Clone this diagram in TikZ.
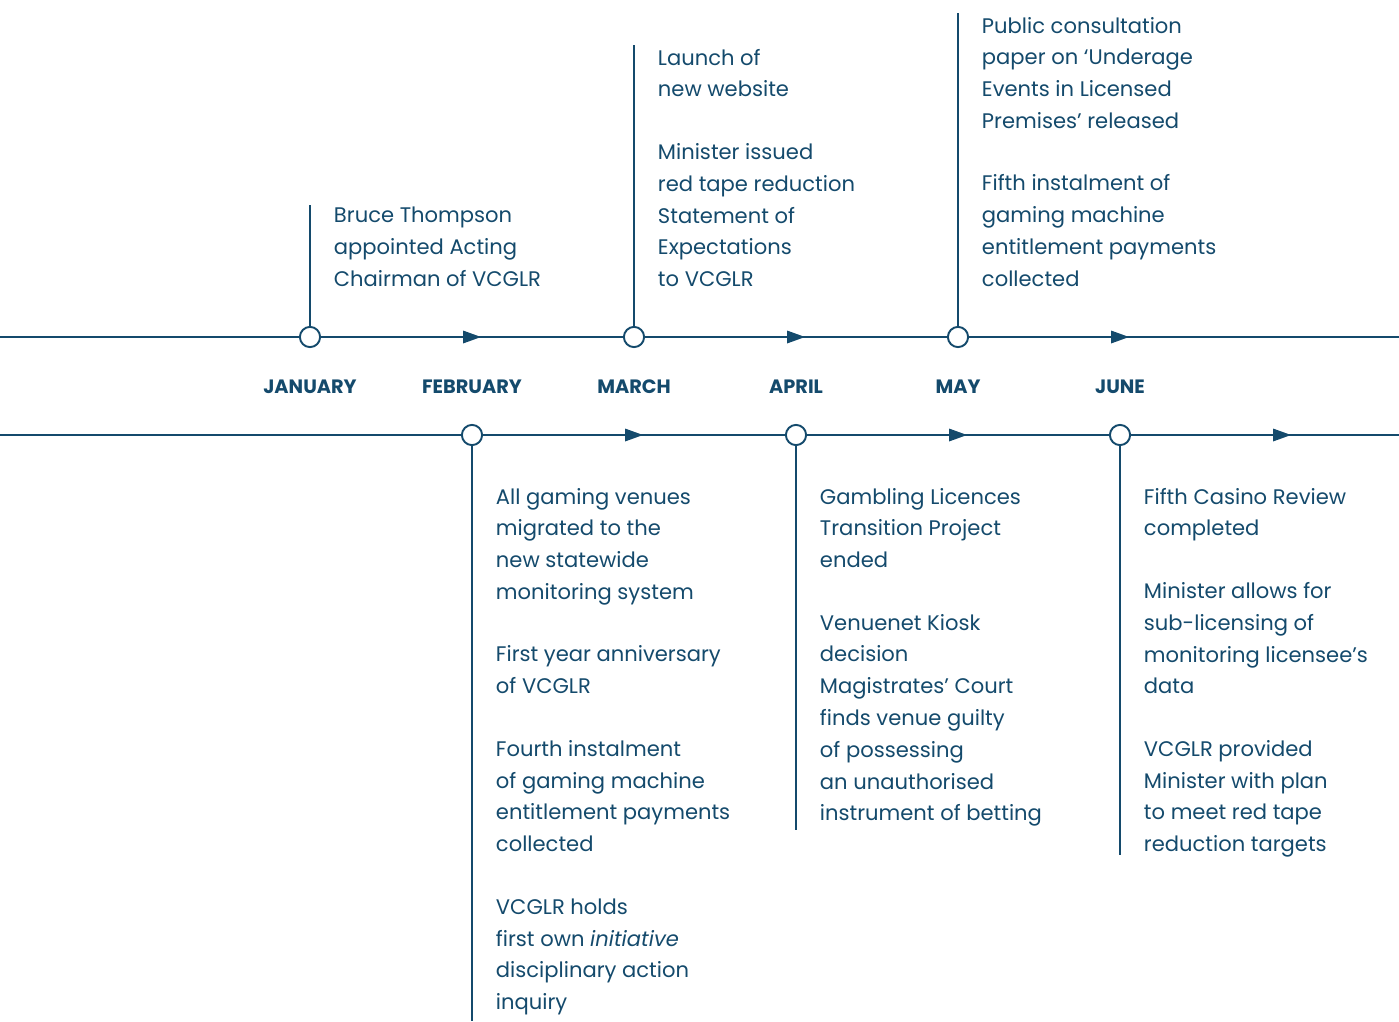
\documentclass[tikz,border=0pt]{standalone}
\usepackage{fontspec}
\setmainfont{Poppins}
\usetikzlibrary{positioning,calc}

\definecolor{tlblue}{HTML}{144A6C}

\begin{document}
\begin{tikzpicture}[x=0.02cm, y=-0.02cm,
    line width=1.1pt, draw=tlblue,
    stop/.style={circle, draw=tlblue, fill=white, line width=1.1pt, minimum size=11.5pt, inner sep=0pt},
    month/.style={text=tlblue, font=\fontsize{11}{13}\selectfont\bfseries, inner sep=0pt},
    event/.style={text=tlblue, font=\fontsize{12}{18.1}\selectfont, align=left, anchor=north west, inner sep=0pt}]
          % Define dimensions
          \def\ytop{337}
          \def\ybot{435}
          \def\ymon{387}
          \def\gap{17.5pt}
          \useasboundingbox (0,0) rectangle (1399,1021);

          % Define points
          \coordinate (topL) at (0,\ytop);
          \coordinate (topR) at (1399,\ytop);
          \coordinate (botL) at (0,\ybot);
          \coordinate (botR) at (1399,\ybot);

          % Draw stops
          \node[stop] (jan) at (310,\ytop) {};
          \node[stop] (mar) at (634,\ytop) {};
          \node[stop] (may) at (958,\ytop) {};
          \node[stop] (feb) at (472,\ybot) {};
          \node[stop] (apr) at (796,\ybot) {};
          \node[stop] (jun) at (1120,\ybot) {};

          % Draw timelines
          \draw[tlblue] (topL) -- (jan) -- (mar) -- (may) -- (topR);
          \draw[tlblue] (botL) -- (feb) -- (apr) -- (jun) -- (botR);

          % Draw arrow heads
          \foreach \x in {472,796,1120}
              \fill[tlblue] (\x-9,\ytop-6.5) -- (\x+9,\ytop) -- (\x-9,\ytop+6.5) -- cycle;
          \foreach \x in {634,958,1282}
              \fill[tlblue] (\x-9,\ybot-6.5) -- (\x+9,\ybot) -- (\x-9,\ybot+6.5) -- cycle;

          % Label months
          \node[month] (janlbl) at (310,\ymon) {JANUARY};
          \node[month] (feblbl) at (472,\ymon) {FEBRUARY};
          \node[month] (marlbl) at (634,\ymon) {MARCH};
          \node[month] (aprlbl) at (796,\ymon) {APRIL};
          \node[month] (maylbl) at (958,\ymon) {MAY};
          \node[month] (junlbl) at (1120,\ymon) {JUNE};

          % Draw ticks
          \coordinate (jantop) at (310,205);
          \coordinate (martop) at (634,45);
          \coordinate (maytop) at (958,13);
          \coordinate (febend) at (472,1021);
          \coordinate (aprend) at (796,830);
          \coordinate (junend) at (1120,855);
          \draw[tlblue] (jan.north) -- (jantop);
          \draw[tlblue] (mar.north) -- (martop);
          \draw[tlblue] (may.north) -- (maytop);
          \draw[tlblue] (feb.south) -- (febend);
          \draw[tlblue] (apr.south) -- (aprend);
          \draw[tlblue] (jun.south) -- (junend);

          % Label events
          \node[event] (janev) at (333,206) {Bruce Thompson\\appointed Acting\\Chairman of VCGLR};
          \node[event] (marev) at (657,48) {Launch of\\new website\\[\gap]
              Minister issued\\red tape reduction\\Statement of\\Expectations\\to VCGLR};
          \node[event] (mayev) at (981,16) {Public consultation\\paper on `Underage\\Events in Licensed\\Premises' released\\[\gap]
              Fifth instalment of\\gaming machine\\entitlement payments\\collected};
          \node[event] (febev) at (495,487) {All gaming venues\\migrated to the\\new statewide\\monitoring system\\[\gap]
              First year anniversary\\of VCGLR\\[\gap]
              Fourth instalment\\of gaming machine\\entitlement payments\\collected\\[\gap]
              VCGLR holds\\first own \textit{initiative}\\disciplinary action\\inquiry};
          \node[event] (aprev) at (819,487) {Gambling Licences\\Transition Project\\ended\\[\gap]
              Venuenet Kiosk\\decision\\Magistrates' Court\\finds venue guilty\\of possessing\\an unauthorised\\instrument of betting};
          \node[event] (junev) at (1143,487) {Fifth Casino Review\\completed\\[\gap]
              Minister allows for\\sub-licensing of\\monitoring licensee's\\data\\[\gap]
              VCGLR provided\\Minister with plan\\to meet red tape\\reduction targets};
        \end{tikzpicture}
\end{document}
